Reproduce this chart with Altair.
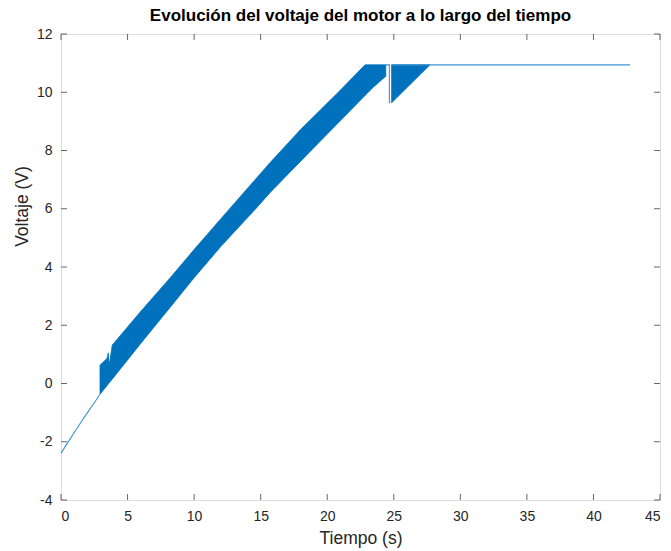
import altair as alt
import pandas as pd

# Thick PWM band: time with lower and upper envelope of the oscillating voltage
band1_t = [2.93, 3.45, 3.56, 3.63, 3.85, 4.06, 6.0, 8.19, 10.0, 12.0, 14.45, 15.7, 18.0, 20.96, 22.84, 23.5, 24.4]
band1_lo = [-0.37, -0.08, -0.01, 0.03, 0.15, 0.27, 1.38, 2.61, 3.63, 4.70, 5.91, 6.55, 7.63, 9.01, 9.89, 10.19, 10.55]
band1_hi = [0.63, 0.86, 1.05, 0.63, 1.32, 1.43, 2.48, 3.62, 4.60, 5.65, 6.93, 7.58, 8.72, 10.06, 10.94, 10.94, 10.94]

band2_t = [24.84, 27.72]
band2_lo = [9.64, 10.94]
band2_hi = [10.94, 10.94]

# Thin single trace segments
head_t = [0.0, 0.5, 1.0, 1.5, 2.0, 2.5, 2.93]
head_v = [-2.40, -2.03, -1.68, -1.33, -0.99, -0.66, -0.37]
drop_t = [24.4, 24.67, 24.67]
drop_v = [10.94, 10.94, 9.62]
tail_t = [24.84, 42.75]
tail_v = [10.94, 10.94]

x_ticks = [0, 5, 10, 15, 20, 25, 30, 35, 40, 45]
y_ticks = [-4, -2, 0, 2, 4, 6, 8, 10, 12]

BLUE = "#0072BD"
INK = "#262626"
FONT = "Liberation Sans"

band_df = pd.concat([
    pd.DataFrame({"t": band1_t, "lo": band1_lo, "hi": band1_hi, "seg": "b1"}),
    pd.DataFrame({"t": band2_t, "lo": band2_lo, "hi": band2_hi, "seg": "b2"}),
])

line_df = pd.concat([
    pd.DataFrame({"t": head_t, "v": head_v, "seg": "head"}),
    pd.DataFrame({"t": drop_t, "v": drop_v, "seg": "drop"}),
    pd.DataFrame({"t": tail_t, "v": tail_v, "seg": "tail"}),
]).reset_index(drop=True)
line_df["i"] = range(len(line_df))

xscale = alt.Scale(domain=[0, 45], nice=False, zero=False)
yscale = alt.Scale(domain=[-4, 12], nice=False, zero=False)

axis_style = dict(
    grid=False, domain=False, ticks=False,
    labelFont=FONT, labelFontSize=14, labelColor=INK,
    titleFont=FONT, titleFontSize=17.5, titleColor=INK, titleFontWeight="normal",
    labelExpr="'' + datum.value",
)
x_axis = alt.Axis(values=x_ticks, title="Tiempo (s)", labelPadding=9,
                  titlePadding=6, **axis_style)
y_axis = alt.Axis(values=y_ticks, title="Voltaje (V)", labelPadding=9,
                  titlePadding=5, titleY=172, **axis_style)

band = alt.Chart(band_df).mark_area(color=BLUE, opacity=1, strokeWidth=0.8,
                                    stroke=BLUE).encode(
    x=alt.X("t:Q", scale=xscale, axis=x_axis),
    y=alt.Y("lo:Q", scale=yscale, axis=y_axis),
    y2="hi:Q",
    detail="seg:N",
)

trace = alt.Chart(line_df).mark_line(color="#3E93D3", strokeWidth=1.1).encode(
    x=alt.X("t:Q", scale=xscale, axis=x_axis),
    y=alt.Y("v:Q", scale=yscale, axis=y_axis),
    detail="seg:N",
    order="i:Q",
)

xt = pd.DataFrame({"x": x_ticks})
yt = pd.DataFrame({"y": y_ticks})

ticks_bottom = alt.Chart(xt).mark_tick(orient="vertical", size=6, thickness=1,
                                       color=INK, yOffset=-3).encode(
    x=alt.X("x:Q", scale=xscale, axis=x_axis), y=alt.datum(-4, scale=yscale))
ticks_top = alt.Chart(xt).mark_tick(orient="vertical", size=6, thickness=1,
                                    color=INK, yOffset=3).encode(
    x=alt.X("x:Q", scale=xscale, axis=x_axis), y=alt.datum(12, scale=yscale))
ticks_left = alt.Chart(yt).mark_tick(orient="horizontal", size=6, thickness=1,
                                     color=INK, xOffset=3).encode(
    y=alt.Y("y:Q", scale=yscale, axis=y_axis), x=alt.datum(0, scale=xscale))
ticks_right = alt.Chart(yt).mark_tick(orient="horizontal", size=6, thickness=1,
                                      color=INK, xOffset=-3).encode(
    y=alt.Y("y:Q", scale=yscale, axis=y_axis), x=alt.datum(45, scale=xscale))

chart = alt.layer(band, trace, ticks_bottom, ticks_top, ticks_left, ticks_right).properties(
    width=599,
    height=466,
    title=alt.TitleParams("Evolución del voltaje del motor a lo largo del tiempo",
                          font=FONT, fontSize=17, fontWeight="bold", color="#000000",
                          anchor="middle", offset=2),
    autosize=alt.AutoSizeParams(type="none"),
    padding={"left": 61, "top": 34, "right": 11, "bottom": 51},
).configure_view(
    stroke=INK, strokeWidth=1
).configure(background="white")

chart.save("out.html", embed_options={"renderer": "svg", "actions": False})
